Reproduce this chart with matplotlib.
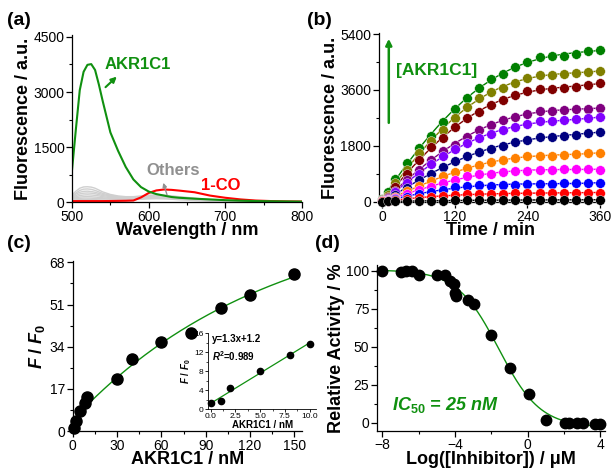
import numpy as np
import matplotlib.pyplot as plt
from matplotlib.ticker import MultipleLocator

plt.rcParams['font.family'] = ['Liberation Sans', 'DejaVu Sans']
plt.rcParams['mathtext.fontset'] = 'custom'
plt.rcParams['mathtext.it'] = 'Liberation Sans:italic:bold'
plt.rcParams['mathtext.rm'] = 'Liberation Sans:bold'
plt.rcParams['mathtext.bf'] = 'Liberation Sans:bold'

# ---- (a) emission spectra ----
wl = [500, 505, 510, 515, 520, 525, 530, 535, 540, 550, 560, 570, 580, 590,
      600, 610, 620, 630, 640, 660, 680, 700, 720, 740, 760, 780, 800]
akr1c1 = [900, 2000, 3050, 3550, 3740, 3760, 3600, 3200, 2750, 1900, 1400, 960, 620, 410,
          290, 220, 180, 140, 120, 95, 75, 55, 40, 30, 25, 20, 15]
co1 = [30, 30, 30, 30, 30, 30, 30, 30, 30, 32, 35, 38, 45, 130,
       250, 320, 345, 335, 315, 270, 180, 120, 75, 45, 30, 22, 18]
others = [
    [200, 300, 380, 415, 420, 410, 380, 330, 280, 210, 170, 150, 150, 170, 190, 200, 190, 170, 150, 110, 70, 40, 25, 15, 10, 8, 5],
    [160, 250, 320, 355, 360, 350, 320, 280, 240, 190, 150, 130, 130, 150, 170, 180, 175, 160, 140, 100, 65, 35, 20, 12, 8, 5, 4],
    [150, 220, 270, 295, 300, 290, 270, 240, 210, 170, 140, 120, 120, 135, 150, 160, 155, 140, 120, 90, 60, 30, 18, 10, 6, 4, 3],
    [130, 180, 225, 245, 250, 245, 230, 205, 180, 150, 125, 110, 110, 120, 135, 140, 135, 125, 110, 80, 50, 28, 15, 8, 5, 3, 2],
    [110, 150, 180, 195, 200, 195, 185, 170, 150, 125, 110, 100, 100, 110, 120, 125, 120, 110, 95, 70, 45, 25, 12, 7, 4, 3, 2],
    [100, 120, 140, 148, 150, 148, 140, 130, 120, 105, 95, 90, 95, 105, 115, 120, 115, 105, 90, 65, 40, 22, 10, 6, 4, 2, 2],
    [90, 100, 105, 110, 110, 108, 105, 100, 95, 88, 85, 85, 90, 100, 110, 115, 110, 100, 85, 60, 38, 20, 10, 5, 3, 2, 1],
    [60, 65, 70, 72, 72, 70, 68, 65, 62, 60, 60, 62, 70, 80, 90, 95, 90, 80, 65, 45, 28, 15, 8, 4, 2, 1, 1],
]

# ---- (b) kinetics ----
t = [0, 10, 20, 40, 60, 80, 100, 120, 140, 160, 180, 200, 220, 240, 260, 280, 300, 320, 340, 360]
kin_colors = ['#008000', '#808000', '#800000', '#800080', '#8000ff', '#000080',
              '#ff8000', '#ff00ff', '#0000ff', '#ff0000', '#000000']
kin = [
    [80, 300, 740, 1250, 1730, 2110, 2560, 3000, 3330, 3670, 3940, 4130, 4340, 4510, 4670, 4680, 4700, 4770, 4860, 4890],
    [50, 200, 600, 1030, 1570, 1940, 2320, 2700, 3060, 3350, 3530, 3670, 3830, 4000, 4080, 4080, 4100, 4160, 4190, 4210],
    [40, 150, 480, 900, 1350, 1750, 2050, 2400, 2700, 2900, 3100, 3290, 3430, 3560, 3640, 3640, 3670, 3710, 3750, 3830],
    [30, 100, 350, 700, 1030, 1350, 1640, 1840, 2090, 2320, 2480, 2620, 2730, 2840, 2920, 2920, 2940, 2970, 3000, 3020],
    [30, 90, 300, 600, 900, 1200, 1480, 1690, 1890, 2050, 2190, 2300, 2410, 2500, 2590, 2590, 2620, 2650, 2680, 2730],
    [20, 60, 200, 450, 700, 900, 1110, 1300, 1460, 1600, 1700, 1800, 1920, 2000, 2070, 2090, 2130, 2160, 2210, 2240],
    [20, 50, 150, 350, 500, 650, 810, 940, 1080, 1190, 1260, 1350, 1400, 1460, 1480, 1480, 1510, 1530, 1560, 1570],
    [15, 40, 120, 250, 370, 480, 600, 700, 810, 880, 900, 940, 970, 1000, 1030, 1030, 1040, 1040, 1050, 1030],
    [10, 30, 80, 160, 240, 310, 380, 460, 500, 530, 510, 530, 540, 560, 580, 580, 590, 590, 600, 600],
    [5, 15, 40, 80, 120, 160, 190, 210, 230, 240, 240, 250, 260, 270, 280, 280, 280, 285, 290, 290],
    [0, 5, 10, 15, 20, 25, 30, 35, 40, 40, 45, 45, 50, 50, 50, 55, 55, 55, 55, 60],
]

# ---- (c) titration ----
conc = [1, 2, 5, 8, 10, 30, 40, 60, 80, 100, 120, 150]
ratio = [1.4, 4.2, 8.1, 11.4, 13.6, 20.8, 29.1, 35.8, 39.5, 49.6, 54.7, 63.5]
conc_low = [0, 1, 2, 5, 8, 10]
ratio_low = [1.2, 1.7, 4.4, 8.0, 11.3, 13.8]

# ---- (d) inhibition ----
log_inh = [-8.0, -7.0, -6.7, -6.35, -6.0, -5.0, -4.55, -4.3, -4.05, -4.0, -3.95,
           -3.3, -2.95, -2.0, -1.0, 0.05, 1.0, 2.05, 2.3, 2.7, 3.05, 3.7, 4.0]
activity = [100, 99.3, 99.8, 99.8, 97.6, 97.6, 97.1, 93.4, 91.2, 85.5, 83.3,
            80.7, 78.5, 57.7, 36.2, 19.3, 1.8, 0, 0, 0, 0, -1, -1]

fig = plt.figure(figsize=(6.11, 4.68), dpi=100)

LAB = 13
TCK = 10


def style(ax):
    for s in ['top', 'right']:
        ax.spines[s].set_visible(False)
    for s in ['left', 'bottom']:
        ax.spines[s].set_linewidth(0.9)
    ax.tick_params(direction='out', length=4, width=0.9, labelsize=TCK, pad=1.5)
    ax.tick_params(which='minor', direction='out', length=2.2, width=0.8)


# (a)
ax1 = fig.add_axes([0.118, 0.568, 0.376, 0.357])
for g in others:
    ax1.plot(wl, g, color='#cfcfcf', lw=1.0)
ax1.plot(wl, co1, color='#ff0000', lw=1.5)
ax1.plot(wl, akr1c1, color='#109010', lw=1.5)
ax1.set_xlim(500, 800)
ax1.set_ylim(0, 4550)
ax1.set_xticks([500, 600, 700, 800])
ax1.set_yticks([0, 1500, 3000, 4500])
ax1.xaxis.set_minor_locator(MultipleLocator(50))
ax1.yaxis.set_minor_locator(MultipleLocator(750))
style(ax1)
ax1.set_xlabel('Wavelength / nm', fontsize=LAB, fontweight='bold', labelpad=-1)
ax1.set_ylabel('Fluorescence / a.u.', fontsize=LAB, fontweight='bold', labelpad=1)
ax1.text(586, 3740, 'AKR1C1', color='#109010', fontsize=12, fontweight='bold',
         ha='center', va='center')
ax1.annotate('', xy=(561, 3470), xytext=(541, 3080),
             arrowprops=dict(arrowstyle='-|>', color='#109010', lw=1.5, mutation_scale=8))
ax1.text(632, 870, 'Others', color='#909090', fontsize=12, fontweight='bold',
         ha='center', va='center')
ax1.annotate('', xy=(618, 600), xytext=(625, 130),
             arrowprops=dict(arrowstyle='-|>', color='#909090', lw=1.0, mutation_scale=6))
ax1.text(694, 460, '1-CO', color='#ff0000', fontsize=12, fontweight='bold',
         ha='center', va='center')

# (b)
ax2 = fig.add_axes([0.620, 0.568, 0.365, 0.361])
for ys, c in zip(kin, kin_colors):
    coef = np.polyfit(t, ys, 4)
    tf = np.linspace(5, 360, 200)
    ax2.plot(tf, np.clip(np.polyval(coef, tf), 0, None), color=c, lw=1.0, zorder=2)
    ax2.plot(t, ys, 'o', color=c, ms=7, mec='white', mew=0.3, zorder=3, clip_on=False)
ax2.set_xlim(-6, 363)
ax2.set_ylim(-20, 5430)
ax2.set_xticks([0, 120, 240, 360])
ax2.set_yticks([0, 1800, 3600, 5400])
ax2.xaxis.set_minor_locator(MultipleLocator(60))
ax2.yaxis.set_minor_locator(MultipleLocator(900))
style(ax2)
ax2.set_xlabel('Time / min', fontsize=LAB, fontweight='bold', labelpad=-1)
ax2.set_ylabel('Fluorescence / a.u.', fontsize=LAB, fontweight='bold', labelpad=1)
ax2.annotate('', xy=(10.5, 5340), xytext=(10.5, 2450),
             arrowprops=dict(arrowstyle='-|>', color='#109010', lw=1.8, mutation_scale=9))
ax2.text(90, 4240, '[AKR1C1]', color='#109010', fontsize=12.5, fontweight='bold',
         ha='center', va='center')

# (c)
ax3 = fig.add_axes([0.119, 0.079, 0.375, 0.363])
x = np.array(conc, float)
y = np.array(ratio, float)
best = None
for tau in np.linspace(20, 400, 381):
    M = np.column_stack([1 - np.exp(-x / tau), np.ones_like(x)])
    p, res, _, _ = np.linalg.lstsq(M, y, rcond=None)
    err = np.sum((M @ p - y) ** 2)
    if best is None or err < best[0]:
        best = (err, tau, p)
_, tau, p = best
xf = np.linspace(0, 150, 200)
ax3.plot(xf, p[0] * (1 - np.exp(-xf / tau)) + p[1], color='#109010', lw=1.0, zorder=2)
ax3.plot(conc, ratio, 'o', color='black', ms=8, zorder=3, clip_on=False)
ax3.set_xlim(0, 155)
ax3.set_ylim(0, 68.5)
ax3.set_xticks([0, 30, 60, 90, 120, 150])
ax3.set_yticks([0, 17, 34, 51, 68])
ax3.xaxis.set_minor_locator(MultipleLocator(15))
ax3.yaxis.set_minor_locator(MultipleLocator(8.5))
style(ax3)
ax3.set_xlabel('AKR1C1 / nM', fontsize=LAB, fontweight='bold', labelpad=-1)
ax3.set_ylabel('$F$ / $F_0$', fontsize=LAB, fontweight='bold', labelpad=2)

# inset
axi = fig.add_axes([0.340, 0.126, 0.178, 0.162])
k = np.polyfit(conc_low, ratio_low, 1)
xl = np.linspace(0, 10, 50)
axi.plot(xl, np.polyval(k, xl), color='#109010', lw=0.9, zorder=2)
axi.plot(conc_low, ratio_low, 'o', color='black', ms=4.5, zorder=3, clip_on=False)
axi.set_xlim(-0.3, 10.7)
axi.set_ylim(0, 16)
axi.set_xticks([0, 2.5, 5, 7.5, 10])
axi.set_xticklabels(['0.0', '2.5', '5.0', '7.5', '10.0'])
axi.set_yticks([0, 4, 8, 12, 16])
axi.xaxis.set_minor_locator(MultipleLocator(1.25))
axi.yaxis.set_minor_locator(MultipleLocator(2))
for s in ['top', 'right']:
    axi.spines[s].set_visible(False)
for s in ['left', 'bottom']:
    axi.spines[s].set_linewidth(0.6)
axi.tick_params(direction='out', length=2, width=0.6, labelsize=6, pad=1)
axi.tick_params(which='minor', length=1.2, width=0.5)
axi.patch.set_alpha(0)
axi.set_xlabel('AKR1C1 / nM', fontsize=7, fontweight='bold', labelpad=0)
axi.set_ylabel('$F$ / $F_0$', fontsize=7, fontweight='bold', labelpad=1)
axi.text(0.1, 15.8, 'y=%.1fx+%.1f' % (k[0], k[1]), fontsize=7, fontweight='bold', va='top')
axi.text(0.1, 12.6, '$R$$^2$=0.989', fontsize=7, fontweight='bold', va='top')

# (d)
ax4 = fig.add_axes([0.617, 0.080, 0.373, 0.354])
xd = np.array(log_inh)
yd = np.array(activity)
best = None
for x0 in np.linspace(-3, 0, 61):
    for h in np.linspace(0.2, 1.2, 51):
        s = 1 / (1 + 10 ** ((xd - x0) * h))
        M = np.column_stack([s, np.ones_like(s)])
        p, _, _, _ = np.linalg.lstsq(M, yd, rcond=None)
        err = np.sum((M @ p - yd) ** 2)
        if best is None or err < best[0]:
            best = (err, x0, h, p)
_, x0, h, p = best
xf = np.linspace(-8, 4, 300)
ax4.plot(xf, p[0] / (1 + 10 ** ((xf - x0) * h)) + p[1], color='#109010', lw=1.0, zorder=2)
ax4.plot(log_inh, activity, 'o', color='black', ms=7.5, zorder=3, clip_on=False)
ax4.set_xlim(-8.3, 4.25)
ax4.set_ylim(-5, 104)
ax4.set_xticks([-8, -4, 0, 4])
ax4.set_yticks([0, 25, 50, 75, 100])
ax4.xaxis.set_minor_locator(MultipleLocator(2))
ax4.yaxis.set_minor_locator(MultipleLocator(12.5))
style(ax4)
ax4.set_xlabel('Log([Inhibitor]) / \u03bcM', fontsize=LAB, fontweight='bold', labelpad=-1)
ax4.set_ylabel('Relative Activity / %', fontsize=LAB, fontweight='bold', labelpad=1)
ax4.text(-7.5, 11.5, '$IC_{50}$ = 25 nM', color='#109010', fontsize=13,
         fontweight='bold', fontstyle='italic', ha='left', va='center')

# panel labels
for lbl, fx, fy in [('(a)', 0.012, 0.975), ('(b)', 0.503, 0.975),
                    ('(c)', 0.012, 0.497), ('(d)', 0.515, 0.497)]:
    fig.text(fx, fy, lbl, fontsize=14, fontweight='bold', va='top')

fig.savefig('out.png', dpi=100)
